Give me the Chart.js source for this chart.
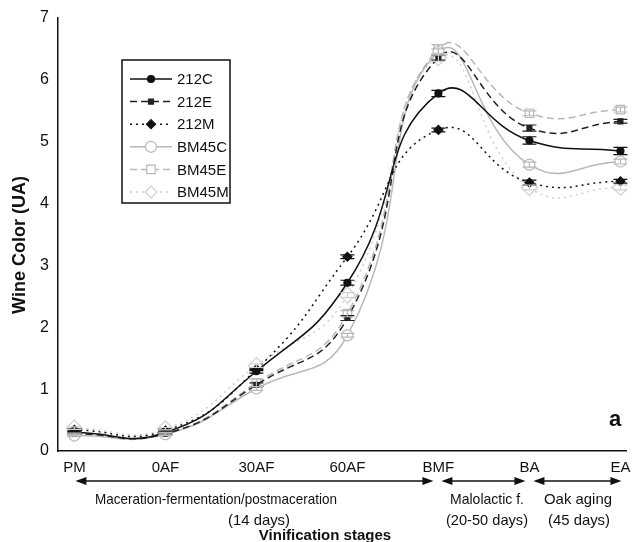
<!DOCTYPE html>
<html>
<head>
<meta charset="utf-8">
<script src="https://cdn.jsdelivr.net/npm/chart.js@4.4.0/dist/chart.umd.min.js"></script>
<style>
  html, body { margin: 0; padding: 0; background: #fff; }
  #wrap { width: 636px; height: 542px; }
</style>
</head>
<body>
<div id="wrap"><canvas id="myChart" width="636" height="542"></canvas></div>
<script>
'use strict';

// stages on the x axis
let stages = ['PM', '0AF', '30AF', '60AF', 'BMF', 'BA', 'EA'];
let yTicks = [0, 1, 2, 3, 4, 5, 6, 7];

// wine colour (UA) per strain / treatment
let c212 = [0.30, 0.30, 1.29, 2.72, 5.78, 5.02, 4.85];
let e212 = [0.28, 0.28, 1.07, 2.15, 6.36, 5.22, 5.33];
let m212 = [0.34, 0.33, 1.32, 3.14, 5.19, 4.34, 4.36];
let cBM45 = [0.25, 0.27, 1.01, 1.87, 6.45, 4.63, 4.68];
let eBM45 = [0.27, 0.28, 1.10, 2.22, 6.50, 5.46, 5.52];
let mBM45 = [0.37, 0.36, 1.38, 2.52, 6.36, 4.26, 4.26];

// error bars
let errC212 = [0.02, 0.02, 0.03, 0.04, 0.05, 0.06, 0.06];
let errE212 = [0.02, 0.02, 0.03, 0.04, 0.04, 0.05, 0.03];
let errM212 = [0.02, 0.02, 0.02, 0.03, 0.03, 0.04, 0.03];
let errCBM45 = [0.02, 0.02, 0.03, 0.03, 0.05, 0.04, 0.04];
let errEBM45 = [0.02, 0.02, 0.06, 0.05, 0.07, 0.04, 0.04];
let errMBM45 = [0.02, 0.02, 0.03, 0.04, 0.06, 0.04, 0.04];

let black = '#111';
let grey = '#b8b8b8';

let makeSet = function (label, data, err, color, dash, style, radius, fill) {
    return {
        label: label,
        data: data.map((v, i) => ({ x: i, y: v })),
        err: err,
        borderColor: color,
        borderWidth: 1.5,
        borderDash: dash,
        pointStyle: style,
        pointRadius: radius,
        pointBackgroundColor: fill,
        pointBorderColor: color,
        pointBorderWidth: 1.2,
        tension: 0.5,
        fill: false
    };
};

let datasets = [
    makeSet('212C', c212, errC212, black, [], 'circle', 3.5, black),
    makeSet('212E', e212, errE212, '#222', [7, 4], 'rect', 3.5, '#222'),
    makeSet('212M', m212, errM212, black, [2, 4], 'rectRot', 4.5, black),
    makeSet('BM45C', cBM45, errCBM45, grey, [], 'circle', 5.5, '#fff'),
    makeSet('BM45E', eBM45, errEBM45, grey, [7, 4], 'rect', 6, '#fff'),
    makeSet('BM45M', mBM45, errMBM45, '#cfcfcf', [2, 4], 'rectRot', 8, '#fff')
];

let errorBars = {
    id: 'errorBars',
    afterDatasetsDraw: function (chart) {
        let ctx = chart.ctx;
        let xs = chart.scales.x;
        let ys = chart.scales.y;
        ctx.save();
        chart.data.datasets.forEach(ds => {
            ctx.strokeStyle = ds.borderColor;
            ctx.lineWidth = 1.2;
            ds.data.forEach((p, i) => {
                let px = xs.getPixelForValue(p.x);
                let top = ys.getPixelForValue(p.y + ds.err[i]);
                let bot = ys.getPixelForValue(p.y - ds.err[i]);
                ctx.beginPath();
                ctx.moveTo(px, top); ctx.lineTo(px, bot);
                ctx.moveTo(px - 7, top); ctx.lineTo(px + 7, top);
                ctx.moveTo(px - 7, bot); ctx.lineTo(px + 7, bot);
                ctx.stroke();
            });
        });
        ctx.restore();
    }
};

let drawArrow = function (ctx, x1, x2, y) {
    ctx.beginPath();
    ctx.moveTo(x1 + 4, y); ctx.lineTo(x2 - 4, y);
    ctx.stroke();
    ctx.beginPath();
    ctx.moveTo(x1, y); ctx.lineTo(x1 + 11, y - 4); ctx.lineTo(x1 + 11, y + 4); ctx.closePath();
    ctx.moveTo(x2, y); ctx.lineTo(x2 - 11, y - 4); ctx.lineTo(x2 - 11, y + 4); ctx.closePath();
    ctx.fill();
};

let extras = {
    id: 'extras',
    afterDraw: function (chart) {
        let ctx = chart.ctx;
        let xs = chart.scales.x;
        ctx.save();

        // legend box
        let bx = 122, by = 60, bw = 108, bh = 143;
        ctx.strokeStyle = '#111';
        ctx.lineWidth = 1.5;
        ctx.strokeRect(bx, by, bw, bh);
        ctx.font = '15px "Liberation Sans", Arial, sans-serif';
        ctx.textBaseline = 'middle';
        chart.data.datasets.forEach((ds, i) => {
            let ly = by + 19 + i * 22.6;
            ctx.save();
            ctx.strokeStyle = ds.borderColor;
            ctx.lineWidth = 1.5;
            ctx.setLineDash(ds.borderDash);
            ctx.beginPath();
            ctx.moveTo(bx + 8, ly); ctx.lineTo(bx + 50, ly);
            ctx.stroke();
            ctx.restore();
            ctx.save();
            ctx.fillStyle = ds.pointBackgroundColor;
            ctx.strokeStyle = ds.pointBorderColor;
            ctx.lineWidth = 1.2;
            Chart.helpers.drawPoint(ctx, {
                pointStyle: ds.pointStyle,
                radius: Math.min(ds.pointRadius, 6),
                borderWidth: 1.2,
                rotation: 0
            }, bx + 29, ly);
            ctx.restore();
            ctx.fillStyle = '#111';
            ctx.textAlign = 'left';
            ctx.fillText(ds.label, bx + 55, ly + 1);
        });

        // panel letter
        ctx.font = 'bold 22px "Liberation Sans", Arial, sans-serif';
        ctx.textAlign = 'center';
        ctx.fillStyle = '#111';
        ctx.fillText('a', 615, 420);

        // stage arrows below the axis
        let arrowY = 481;
        ctx.fillStyle = '#111';
        ctx.strokeStyle = '#111';
        ctx.lineWidth = 1.5;
        let p = i => xs.getPixelForValue(i);
        drawArrow(ctx, p(0) + 1, p(4) - 5, arrowY);
        drawArrow(ctx, p(4) + 3, p(5) - 4, arrowY);
        drawArrow(ctx, p(5) + 4, p(6) + 1, arrowY);

        ctx.font = '15px "Liberation Sans Narrow", "Liberation Sans", Arial, sans-serif';
        ctx.textAlign = 'center';
        ctx.fillText('Maceration-fermentation/postmaceration', 216, 500, 242);
        ctx.fillText('(14 days)', 259, 521, 62);
        ctx.fillText('Malolactic f.', 487, 500, 74);
        ctx.fillText('(20-50 days)', 487, 521, 82);
        ctx.fillText('Oak aging', 578, 500, 68);
        ctx.fillText('(45 days)', 579, 521, 62);

        ctx.font = 'bold 15px "Liberation Sans", Arial, sans-serif';
        ctx.fillText('Vinification stages', 325, 536);

        // y axis title
        ctx.font = 'bold 18px "Liberation Sans", Arial, sans-serif';
        ctx.translate(20, 245);
        ctx.rotate(-Math.PI / 2);
        ctx.fillText('Wine Color (UA)', 0, 0, 156);
        ctx.restore();
    }
};

let ctx = document.getElementById('myChart').getContext('2d');
let wineChart = new Chart(ctx, {
    type: 'line',
    data: { datasets: datasets },
    plugins: [errorBars, extras],
    options: {
        responsive: false,
        animation: false,
        layout: { padding: { top: 18, right: 4, bottom: 66, left: 0 } },
        plugins: {
            legend: { display: false },
            tooltip: { enabled: false }
        },
        scales: {
            x: {
                type: 'linear',
                min: -0.18,
                max: 6.07,
                afterFit: function (scale) { scale.height = 25; },
                afterBuildTicks: function (scale) {
                    scale.ticks = stages.map((s, i) => ({ value: i }));
                },
                grid: { display: false, drawTicks: true, tickLength: 6, tickColor: '#111' },
                border: { color: '#111', width: 1.5 },
                ticks: {
                    color: '#111',
                    padding: 2,
                    maxRotation: 0,
                    autoSkip: false,
                    font: { family: '"Liberation Sans Narrow", "Liberation Sans", Arial', size: 15 },
                    callback: function (value) { return stages[value]; }
                }
            },
            y: {
                min: 0,
                max: 7,
                afterFit: function (scale) { scale.width = 58; },
                afterBuildTicks: function (scale) {
                    scale.ticks = yTicks.map(v => ({ value: v }));
                },
                grid: { display: false, drawTicks: true, tickLength: 6, tickColor: '#111' },
                border: { color: '#111', width: 1.5 },
                ticks: {
                    color: '#111',
                    padding: 3,
                    font: { family: '"Liberation Sans", Arial', size: 16 }
                }
            }
        }
    }
});
</script>
</body>
</html>
